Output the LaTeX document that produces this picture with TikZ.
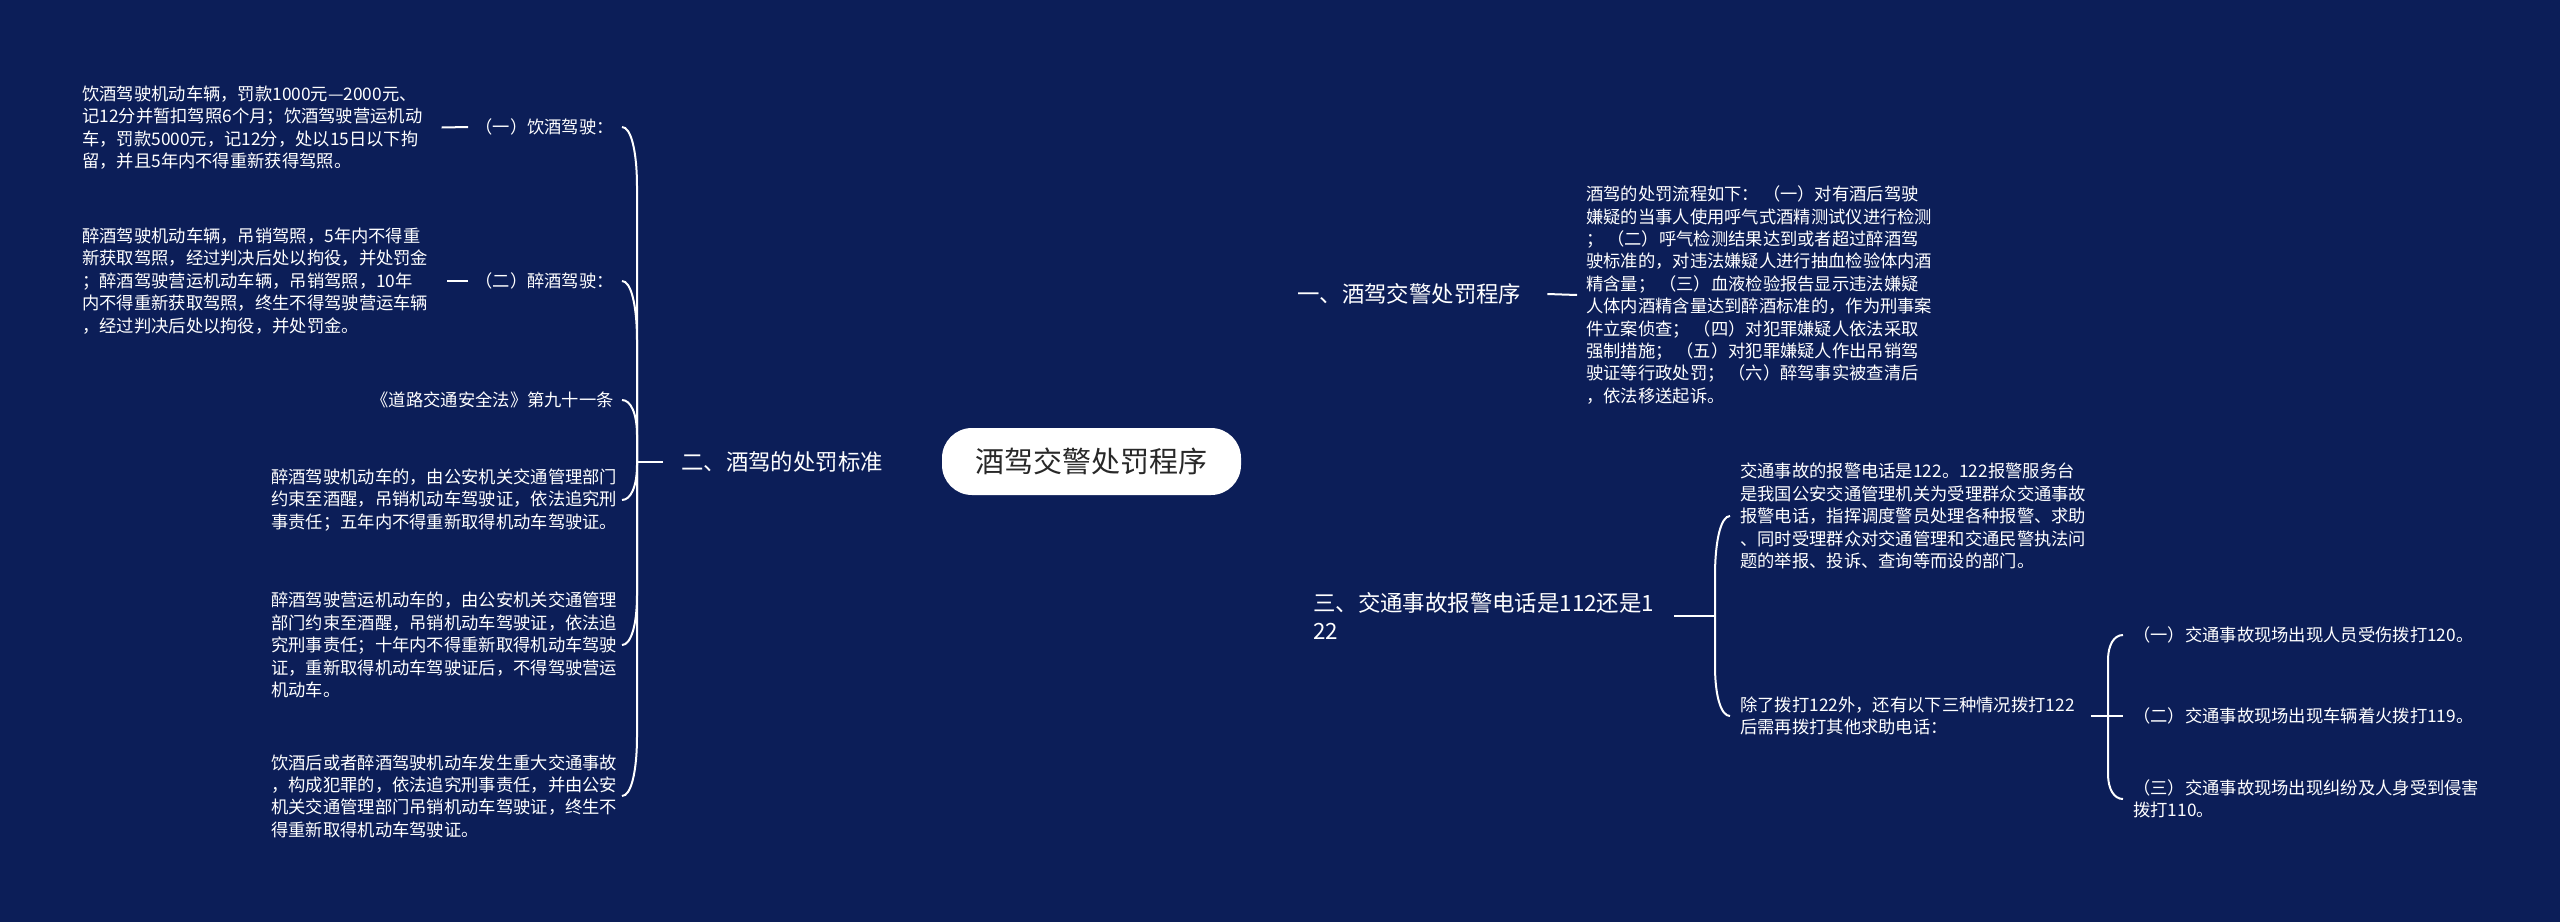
\documentclass[tikz,border=0pt]{standalone}
\usepackage{fontspec}
\setmainfont{Noto Sans CJK SC}
\usetikzlibrary{calc}
\definecolor{bgc}{RGB}{12,30,88}
\definecolor{roottext}{RGB}{40,40,40}
\pgfdeclarelayer{bg}
\pgfsetlayers{bg,main}
\newcommand\lconn[3]{\draw[conn] (#1) -- ($(#1 |- #2.east)+(0,#3)$) .. controls ($(#1 |- #2.east)+(0,0.4*#3)$) and ($(#1 |- #2.east)+(-6,0)$) .. ($(#1 |- #2.east)+(-15,0)$);}
\newcommand\rconn[3]{\draw[conn] (#1) -- ($(#1 |- #2.west)+(0,#3)$) .. controls ($(#1 |- #2.west)+(0,0.4*#3)$) and ($(#1 |- #2.west)+(6,0)$) .. ($(#1 |- #2.west)+(15,0)$);}
\begin{document}
\begin{tikzpicture}[x=1pt,y=-1pt,
  txt/.style={text=white, inner sep=0pt, align=left, font=\fontsize{17.3}{22.4}\selectfont},
  lbl/.style={text=white, inner sep=0pt, align=left, font=\fontsize{22.4}{28}\selectfont},
  conn/.style={draw=white, line width=2pt},
  mainline/.style={draw=white, line width=2.4pt}]
\fill[bgc] (0,0) rectangle (2560,922);
\useasboundingbox (0,0) rectangle (2560,922);

% root and branches
\node[fill=white, rounded corners=30pt, minimum width=299pt, minimum height=67pt, text=roottext, font=\fontsize{29}{34}\selectfont, inner sep=0pt] (root) at (1091.5,461.5) {酒驾交警处罚程序};
\node[lbl, anchor=west] (b1) at (1297,294) {一、酒驾交警处罚程序};
\node[lbl, anchor=east] (b2) at (883,462) {二、酒驾的处罚标准};
\node[lbl, anchor=west] (b3) at (1313,616) {三、交通事故报警电话是112还是1\\22};

% branch 1 detail
\node[txt, anchor=west] (p1) at (1586,295) {酒驾的处罚流程如下： （一）对有酒后驾驶\\
嫌疑的当事人使用呼气式酒精测试仪进行检测\\
； （二）呼气检测结果达到或者超过醉酒驾\\
驶标准的，对违法嫌疑人进行抽血检验体内酒\\
精含量； （三）血液检验报告显示违法嫌疑\\
人体内酒精含量达到醉酒标准的，作为刑事案\\
件立案侦查； （四）对犯罪嫌疑人依法采取\\
强制措施； （五）对犯罪嫌疑人作出吊销驾\\
驶证等行政处罚； （六）醉驾事实被查清后\\
，依法移送起诉。};

% branch 2 children
\coordinate (j2) at (637,462);
\node[txt, anchor=east] (i1) at (614,127) {（一）饮酒驾驶：};
\node[txt, anchor=east] (i2) at (614,281) {（二）醉酒驾驶：};
\node[txt, anchor=west] (l1) at (82,127.5) {饮酒驾驶机动车辆，罚款1000元—2000元、\\
记12分并暂扣驾照6个月；饮酒驾驶营运机动\\
车，罚款5000元，记12分，处以15日以下拘\\
留，并且5年内不得重新获得驾照。};
\node[txt, anchor=west] (l2) at (82,281) {醉酒驾驶机动车辆，吊销驾照，5年内不得重\\
新获取驾照，经过判决后处以拘役，并处罚金\\
；醉酒驾驶营运机动车辆，吊销驾照，10年\\
内不得重新获取驾照，终生不得驾驶营运车辆\\
，经过判决后处以拘役，并处罚金。};
\node[txt, anchor=east] (i3) at (614,400) {《道路交通安全法》第九十一条};
\node[txt, anchor=west] (i4) at (271,500) {醉酒驾驶机动车的，由公安机关交通管理部门\\
约束至酒醒，吊销机动车驾驶证，依法追究刑\\
事责任；五年内不得重新取得机动车驾驶证。};
\node[txt, anchor=west] (i5) at (271,645) {醉酒驾驶营运机动车的，由公安机关交通管理\\
部门约束至酒醒，吊销机动车驾驶证，依法追\\
究刑事责任；十年内不得重新取得机动车驾驶\\
证，重新取得机动车驾驶证后，不得驾驶营运\\
机动车。};
\node[txt, anchor=west] (i6) at (271,796) {饮酒后或者醉酒驾驶机动车发生重大交通事故\\
，构成犯罪的，依法追究刑事责任，并由公安\\
机关交通管理部门吊销机动车驾驶证，终生不\\
得重新取得机动车驾驶证。};

% branch 3 children
\coordinate (j3) at (1715,616);
\node[txt, anchor=west] (c1) at (1740,516) {交通事故的报警电话是122。122报警服务台\\
是我国公安交通管理机关为受理群众交通事故\\
报警电话，指挥调度警员处理各种报警、求助\\
、同时受理群众对交通管理和交通民警执法问\\
题的举报、投诉、查询等而设的部门。};
\node[txt, anchor=west] (c2) at (1740,716) {除了拨打122外，还有以下三种情况拨打122\\
后需再拨打其他求助电话：};
\coordinate (j4) at (2108,716);
\node[txt, anchor=west] (d1) at (2133,635) {（一）交通事故现场出现人员受伤拨打120。};
\node[txt, anchor=west] (d2) at (2133,716) {（二）交通事故现场出现车辆着火拨打119。};
\node[txt, anchor=west] (d3) at (2133,799) {（三）交通事故现场出现纠纷及人身受到侵害\\
拨打110。};

\begin{pgfonlayer}{bg}
\draw[mainline] (root.center) .. controls +(0,-131) and +(-127,0) .. ([xshift=-20pt]b1.west);
\draw[mainline] (root.center) .. controls +(0,120) and +(-127,0) .. ([xshift=-36pt]b3.west);
\draw[mainline] (root.west) -- ([xshift=20pt]b2.east);
\end{pgfonlayer}
\draw[conn] ([xshift=26pt]b1.east) -- ([xshift=-9pt]p1.west);
\draw[conn] ([xshift=-18pt]b2.west) -- (j2);
\draw[conn] ([xshift=-7pt]i1.west) -- ([xshift=19pt]l1.east);
\draw[conn] ([xshift=-7pt]i2.west) -- ([xshift=19pt]l2.east);
\lconn{j2}{i1}{60}
\lconn{j2}{i2}{60}
\lconn{j2}{i3}{35}
\lconn{j2}{i4}{-35}
\lconn{j2}{i5}{-50}
\lconn{j2}{i6}{-60}
\draw[conn] ([xshift=20pt]b3.east) -- (j3);
\rconn{j3}{c1}{60}
\rconn{j3}{c2}{-50}
\draw[conn] ([xshift=16pt]c2.east) -- (j4);
\rconn{j4}{d1}{25}
\draw[conn] (j4) -- ([xshift=-10pt]d2.west);
\rconn{j4}{d3}{-25}
\end{tikzpicture}
\end{document}
